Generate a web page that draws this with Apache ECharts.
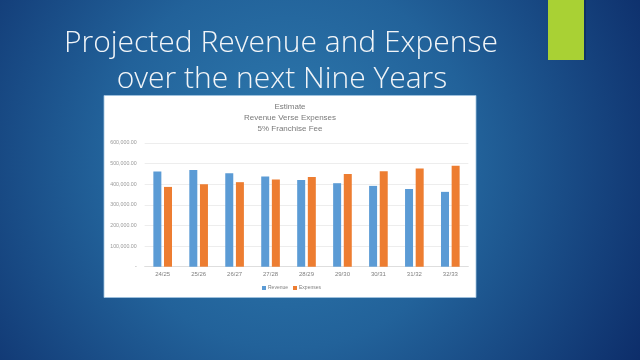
<!DOCTYPE html>
<html>
<head>
<meta charset="utf-8">
<script src="https://cdn.jsdelivr.net/npm/echarts@6/dist/echarts.min.js"></script>
<style>
html,body{margin:0;padding:0;width:640px;height:360px;overflow:hidden;}
#c{width:640px;height:360px;}
</style>
</head>
<body>
<div id="c"></div>
<script>
const categories = ['24/25','25/26','26/27','27/28','28/29','29/30','30/31','31/32','32/33'];
const revenue = [462000, 469000, 453000, 437000, 421000, 405000, 392000, 377000, 363000];
const expenses = [387000, 400000, 410000, 423000, 435000, 450000, 463000, 476000, 490000];
const yTicks = [0, 100000, 200000, 300000, 400000, 500000, 600000];
const slideTitle = ['Projected Revenue and Expense', 'over the next Nine Years'];
const chartTitle = 'Estimate\nRevenue Verse Expenses\n5% Franchise Fee';

function fmt(v){
  if (v === 0) return '-';
  return v.toLocaleString('en-US', {minimumFractionDigits:2, maximumFractionDigits:2});
}

const chart = echarts.init(document.getElementById('c'), null, {renderer:'canvas'});
chart.setOption({
  backgroundColor: {
    type:'radial', x:0.45, y:0.45, r:1.15,
    colorStops:[{offset:0,color:'#2f7cb0'},{offset:0.45,color:'#22629a'},{offset:1,color:'#0c2b68'}]
  },
  animation:false,
  graphic:[
    {type:'rect', z:-1, shape:{x:550, y:-2, width:36, height:62}, style:{fill:'#0a2450', opacity:0.5}},
    {type:'rect', z:0, shape:{x:548, y:-2, width:36, height:62}, style:{fill:'#a9d134'}},
    {type:'rect', z:0, shape:{x:104, y:95.5, width:372, height:202}, style:{fill:'#ffffff', stroke:'#9fc3df', lineWidth:0.8}},
    {type:'text', z:1, style:{text:slideTitle[0], x:281, y:43, textAlign:'center', textVerticalAlign:'middle', fill:'#f2f5f8', font:'300 30px "Open Sans", sans-serif'}},
    {type:'text', z:1, style:{text:slideTitle[1], x:282, y:79, textAlign:'center', textVerticalAlign:'middle', fill:'#f2f5f8', font:'300 30px "Open Sans", sans-serif'}},
    {type:'text', z:1, style:{text:chartTitle, x:290, y:101, textAlign:'center', textVerticalAlign:'top', fill:'#7a7a7a', font:'8px "Liberation Sans", sans-serif', lineHeight:11.3}}
  ],
  grid:{left:144.7, right:171.7, top:143, bottom:93.3, containLabel:false},
  legend:{
    data:['Revenue','Expenses'], left:262, top:285.5, padding:0, itemWidth:4, itemHeight:4, itemGap:5,
    icon:'rect', textStyle:{fontSize:5, color:'#808080', fontFamily:'Liberation Sans', padding:[0,0,0,-3]}
  },
  xAxis:{
    type:'category', data:categories,
    axisLine:{lineStyle:{color:'#d9d9d9', width:0.8}}, axisTick:{show:false},
    axisLabel:{fontSize:6, color:'#7f7f7f', fontFamily:'Liberation Sans', margin:5}
  },
  yAxis:{
    type:'value', min:0, max:600000, interval:100000,
    axisLine:{show:false}, axisTick:{show:false},
    splitLine:{lineStyle:{color:'#e9e9e9', width:0.8}},
    axisLabel:{fontSize:5.3, color:'#9a9a9a', fontFamily:'Liberation Sans', margin:8, formatter:fmt}
  },
  series:[
    {name:'Revenue', type:'bar', data:revenue, barWidth:8, barGap:'33%', itemStyle:{color:'#5b9bd5'}},
    {name:'Expenses', type:'bar', data:expenses, barWidth:8, barGap:'33%', itemStyle:{color:'#ed7d31'}}
  ]
});
</script>
</body>
</html>
